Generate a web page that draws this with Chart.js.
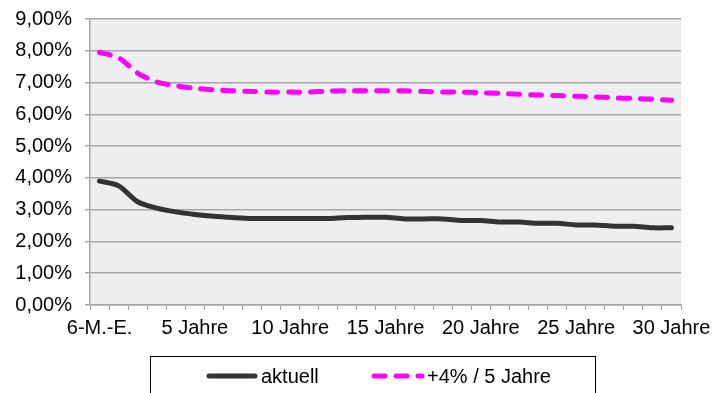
<!DOCTYPE html>
<html>
<head>
<meta charset="utf-8">
<script src="https://cdn.jsdelivr.net/npm/chart.js@4/dist/chart.umd.min.js"></script>
<style>
  html, body { margin: 0; padding: 0; background: #ffffff; }
  #wrap { width: 713px; height: 393px; }
</style>
</head>
<body>
<div id="wrap"><canvas id="c" width="713" height="393"></canvas></div>
<script>
// Laufzeiten (x-axis categories)
const laufzeiten = [
  '6-M.-E.', '1 Jahr', '2 Jahre', '3 Jahre', '4 Jahre', '5 Jahre',
  '6 Jahre', '7 Jahre', '8 Jahre', '9 Jahre', '10 Jahre',
  '11 Jahre', '12 Jahre', '13 Jahre', '14 Jahre', '15 Jahre',
  '16 Jahre', '17 Jahre', '18 Jahre', '19 Jahre', '20 Jahre',
  '21 Jahre', '22 Jahre', '23 Jahre', '24 Jahre', '25 Jahre',
  '26 Jahre', '27 Jahre', '28 Jahre', '29 Jahre', '30 Jahre'
];

// Zinssätze in Prozent
const aktuell = [
  3.90, 3.75, 3.25, 3.05, 2.93, 2.85, 2.79, 2.75, 2.72, 2.72, 2.72,
  2.72, 2.72, 2.75, 2.76, 2.76, 2.71, 2.71, 2.71, 2.66, 2.66,
  2.61, 2.61, 2.57, 2.57, 2.52, 2.52, 2.48, 2.48, 2.43, 2.43
];
const plusVierInFuenf = [
  7.95, 7.78, 7.30, 7.02, 6.90, 6.82, 6.77, 6.74, 6.72, 6.70, 6.70,
  6.70, 6.73, 6.74, 6.74, 6.74, 6.74, 6.72, 6.70, 6.70, 6.68,
  6.66, 6.63, 6.61, 6.59, 6.57, 6.55, 6.52, 6.50, 6.48, 6.44
];

// Y-axis ticks (percent)
const yTicks = [0, 1, 2, 3, 4, 5, 6, 7, 8, 9];

const FONT = { family: '"Liberation Sans", Arial, sans-serif', size: 20 };
const GRID = '#a6a6a6';

const plotBackground = {
  id: 'plotBackground',
  beforeDraw(chart) {
    const { ctx, chartArea: a } = chart;
    ctx.save();
    ctx.fillStyle = '#edeef0';
    ctx.fillRect(a.left, a.top, a.right - a.left, a.bottom - a.top);
    ctx.restore();
  }
};

// Boxed legend below the chart
const boxedLegend = {
  id: 'boxedLegend',
  afterDraw(chart) {
    const ctx = chart.ctx;
    ctx.save();
    ctx.strokeStyle = '#000000';
    ctx.lineWidth = 1;
    ctx.strokeRect(150.5, 356.5, 445, 60);
    const y = 376;
    const items = [
      { x0: 209, x1: 255, tx: 261 },
      { x0: 374, x1: 422, tx: 427 }
    ];
    chart.data.datasets.forEach((ds, i) => {
      const it = items[i];
      ctx.beginPath();
      ctx.strokeStyle = ds.borderColor;
      ctx.lineWidth = ds.borderWidth;
      ctx.lineCap = 'round';
      ctx.setLineDash(ds.borderDash || []);
      ctx.moveTo(it.x0, y);
      ctx.lineTo(it.x1, y);
      ctx.stroke();
      ctx.setLineDash([]);
      ctx.fillStyle = '#000000';
      ctx.font = FONT.size + 'px ' + FONT.family;
      ctx.textBaseline = 'middle';
      ctx.textAlign = 'left';
      ctx.fillText(ds.label, it.tx, y + 1);
    });
    ctx.restore();
  }
};

new Chart(document.getElementById('c'), {
  type: 'line',
  data: {
    labels: laufzeiten,
    datasets: [
      {
        label: 'aktuell',
        data: aktuell,
        borderColor: '#333333',
        borderWidth: 5,
        borderCapStyle: 'round',
        borderJoinStyle: 'round',
        pointRadius: 0,
        tension: 0.3,
        fill: false
      },
      {
        label: '+4% / 5 Jahre',
        data: plusVierInFuenf,
        borderColor: '#ff00ff',
        borderWidth: 5,
        borderDash: [11, 11],
        borderCapStyle: 'round',
        borderJoinStyle: 'round',
        pointRadius: 0,
        tension: 0.3,
        fill: false
      }
    ]
  },
  options: {
    responsive: false,
    animation: false,
    devicePixelRatio: 1,
    layout: { padding: { top: 19, right: 32, bottom: 53, left: 0 } },
    plugins: {
      legend: { display: false },
      tooltip: { enabled: false }
    },
    scales: {
      x: {
        type: 'category',
        offset: true,
        grid: {
          offset: true,
          drawOnChartArea: false,
          drawTicks: true,
          tickLength: 5,
          color: GRID,
          lineWidth: 1
        },
        border: { color: GRID, width: 1.5 },
        ticks: {
          autoSkip: false,
          maxRotation: 0,
          minRotation: 0,
          padding: 6,
          color: '#000000',
          font: FONT,
          callback(value, index) {
            return index % 5 === 0 ? laufzeiten[index] : '';
          }
        },
        afterFit(scale) {
          scale.height = 35;
          scale.paddingLeft = 0;
          scale.paddingRight = 0;
        }
      },
      y: {
        min: yTicks[0],
        max: yTicks[yTicks.length - 1],
        afterBuildTicks(scale) {
          scale.ticks = yTicks.map(v => ({ value: v }));
        },
        grid: {
          color: GRID,
          lineWidth: 1.5,
          drawTicks: true,
          tickLength: 5
        },
        border: { color: GRID, width: 1.5 },
        ticks: {
          padding: 13,
          color: '#000000',
          font: FONT,
          callback(value) {
            return value.toFixed(2).replace('.', ',') + '%';
          }
        },
        afterFit(scale) {
          scale.width = 90;
          scale.paddingTop = 0;
          scale.paddingBottom = 0;
        }
      }
    }
  },
  plugins: [plotBackground, boxedLegend]
});
</script>
</body>
</html>
